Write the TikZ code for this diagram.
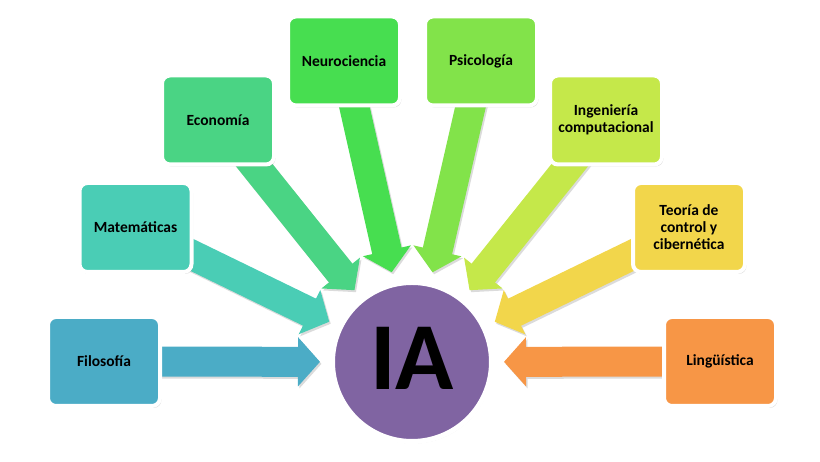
\documentclass[tikz,border=0pt]{standalone}
\usepackage{fontspec}
\setmainfont{Carlito}
\usepackage{tikz}
\usetikzlibrary{arrows.meta, shadows, backgrounds}
\definecolor{filocolor}{HTML}{4BACC6}
\definecolor{matecolor}{HTML}{4ACDB5}
\definecolor{econcolor}{HTML}{4AD484}
\definecolor{neurocolor}{HTML}{47DE50}
\definecolor{psicocolor}{HTML}{82E34A}
\definecolor{ingecolor}{HTML}{C5E84A}
\definecolor{teoriacolor}{HTML}{F2D64B}
\definecolor{lingcolor}{HTML}{F79646}
\definecolor{iapurple}{HTML}{8064A2}

\tikzset{
  topicbox/.style={rectangle, rounded corners=8pt, draw=white, line width=4pt,
    fill=#1, minimum width=112pt, minimum height=89pt, inner sep=2pt,
    align=center, font=\bfseries\fontsize{15.5}{17}\selectfont,
    drop shadow={shadow xshift=1.5pt, shadow yshift=-2pt, opacity=.3}},
  flowarrow/.style={draw=#1, line width=30pt,
    -{Triangle[length=22pt, width=48pt]}, shorten >=10pt},
  arrowshadow/.style={flowarrow=black!14,
    transform canvas={shift={(1.5pt,-2pt)}}},
}

\begin{document}
\begin{tikzpicture}[x=1pt, y=1pt]
  \useasboundingbox (0,0) rectangle (820,462);

  % centre
  \node[circle, fill=iapurple, draw=white, line width=5pt, minimum size=159pt,
    inner sep=0pt, text depth=8pt, font=\bfseries\fontsize{96}{96}\selectfont,
    drop shadow={shadow xshift=1pt, shadow yshift=-2pt, opacity=.25}]
    (ia) at (412,100) {IA};

  % disciplinas
  \node[topicbox=filocolor] (filo) at (104,100.5) {Filosofía};
  \node[topicbox=matecolor] (mate) at (135.5,234.5) {Matemáticas};
  \node[topicbox=econcolor] (econ) at (218,342) {Economía};
  \node[topicbox=neurocolor] (neuro) at (344,401) {Neurociencia};
  \node[topicbox=psicocolor] (psico) at (481,401) {Psicología};
  \node[topicbox=ingecolor] (inge) at (606,342) {Ingeniería\\computacional};
  \node[topicbox=teoriacolor] (teoria) at (689,234.5) {Teoría de\\control y\\cibernética};
  \node[topicbox=lingcolor] (ling) at (720,100.5) {Lingüística};

  % flechas
  \begin{scope}[on background layer]
    \foreach \src/\col in {filo/filocolor, mate/matecolor, econ/econcolor,
        neuro/neurocolor, psico/psicocolor, inge/ingecolor,
        teoria/teoriacolor, ling/lingcolor} {
      \draw[arrowshadow] (\src.center) -- (ia);
      \draw[flowarrow=\col] (\src.center) -- (ia);
    }
  \end{scope}
\end{tikzpicture}
\end{document}
